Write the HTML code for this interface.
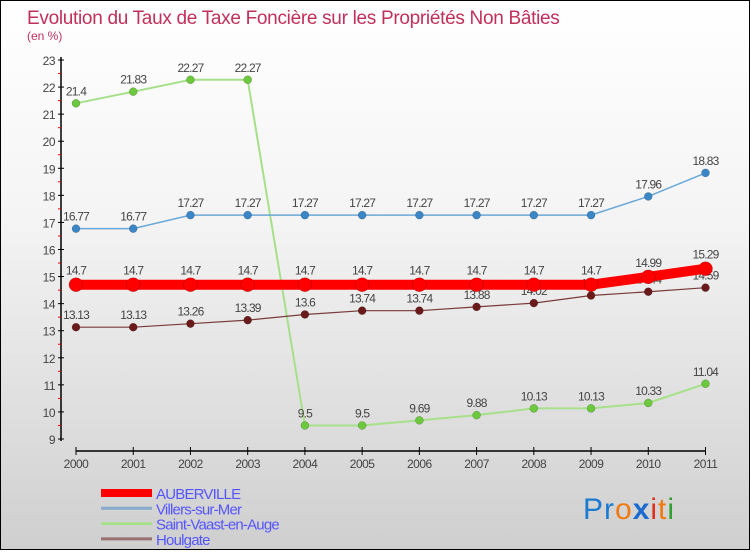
<!DOCTYPE html>
<html><head><meta charset="utf-8"><style>
body{margin:0}
#wrap{width:748px;height:548px;border:1px solid #000;background:linear-gradient(#ffffff,#f4f4f4 40%,#cfcfcf);position:relative;font-family:"Liberation Sans",sans-serif}
svg text{font-family:"Liberation Sans",sans-serif}
</style></head><body>
<div id="wrap">
<svg id="chart" width="748" height="548">
<text x="26" y="23" font-size="19" fill="#c0305a" letter-spacing="-0.3">Evolution du Taux de Taxe Foncière sur les Propriétés Non Bâties</text>
<text x="26" y="39" font-size="12" fill="#c0305a">(en %)</text>
<text x="582" y="518" font-size="30" letter-spacing="1"><tspan fill="#1a7bd0">Pr</tspan><tspan fill="#f07a10">o</tspan><tspan fill="#1a6ad0" font-weight="bold">x</tspan><tspan fill="#e03020">i</tspan><tspan fill="#f07a10">t</tspan><tspan fill="#30a030">i</tspan></text>
</svg></div>
<script>
const years=[2000,2001,2002,2003,2004,2005,2006,2007,2008,2009,2010,2011];
const auberville=[14.7,14.7,14.7,14.7,14.7,14.7,14.7,14.7,14.7,14.7,14.99,15.29];
const villers=[16.77,16.77,17.27,17.27,17.27,17.27,17.27,17.27,17.27,17.27,17.96,18.83];
const saintVaast=[21.4,21.83,22.27,22.27,9.5,9.5,9.69,9.88,10.13,10.13,10.33,11.04];
const houlgate=[13.13,13.13,13.26,13.39,13.6,13.74,13.74,13.88,14.02,14.3,14.44,14.59];
const yTicks=[9,10,11,12,13,14,15,16,17,18,19,20,21,22,23];
const svg=document.getElementById('chart');
const NS='http://www.w3.org/2000/svg';
function X(i){return 75+i*(704.5-75)/11;}
function Y(v){return 438-(v-9)*(438-59)/14;}
function mk(t,a,p){const e=document.createElementNS(NS,t);for(const k in a)e.setAttribute(k,a[k]);(p||svg).appendChild(e);return e;}
let ax=mk('line',{x1:60,y1:56,x2:60,y2:440,stroke:'#000','stroke-width':1.5});


let xa=mk('line',{x1:75,y1:450,x2:705,y2:450,stroke:'#000','stroke-width':1.5});


yTicks.forEach(v=>{
  mk('line',{x1:57,y1:Y(v),x2:63,y2:Y(v),stroke:'#000'});
  if(v<23)mk('line',{x1:57,y1:Y(v+0.5),x2:60,y2:Y(v+0.5),stroke:'#e00'});
  const t=mk('text',{x:54,y:Y(v)+5,'font-size':12,fill:'#444','text-anchor':'end','letter-spacing':'-0.5'});
  t.textContent=v;
  
  
});
years.forEach((y,i)=>{
  mk('line',{x1:X(i),y1:446,x2:X(i),y2:454,stroke:'#000'});
  const t=mk('text',{x:X(i),y:467,'font-size':12,fill:'#444','text-anchor':'middle','letter-spacing':'-0.5'});
  t.textContent=y;
  
  
});
function series(vals,color,dot,w,r,name,labOff){
  const g=mk('g',{});
  
  
  mk('polyline',{points:vals.map((v,i)=>X(i)+','+Y(v)).join(' '),fill:'none',stroke:color,'stroke-width':w},g);
  vals.forEach((v,i)=>{
    const c=mk('circle',{cx:X(i),cy:Y(v),r:r,fill:dot,stroke:'rgba(0,0,0,0.3)','stroke-width':0.5},g);
    
    
    const t=mk('text',{x:X(i),y:Y(v)-labOff,'font-size':12,fill:'#444','text-anchor':'middle','letter-spacing':'-0.8'},g);
    t.textContent=v;
  });
}
series(saintVaast,'#a6e08a','#6cc83c',2,4,'saint-vaast-series',8);
series(villers,'#6aa8d8','#3a86c6',1.5,4,'villers-series',8);
series(houlgate,'#7a3a3a','#6a1a1a',1.2,4,'houlgate-series',8);
series(auberville,'#ff0000','#ff0000',10,7,'auberville-series',10);
const leg=[['AUBERVILLE','#ff0000',8],['Villers-sur-Mer','#88aacc',3],['Saint-Vaast-en-Auge','#a6e08a',3],['Houlgate','#9a7070',3]];
leg.forEach((l,i)=>{
  const y=492+i*15.3;
  const g=mk('g',{});
  
  
  mk('line',{x1:100,y1:y,x2:151,y2:y,stroke:l[1],'stroke-width':l[2]},g);
  const t=mk('text',{x:155,y:y+6,'font-size':15,fill:'#5555ff','letter-spacing':'-0.8'},g);
  t.textContent=l[0];
});
</script>
</body></html>
